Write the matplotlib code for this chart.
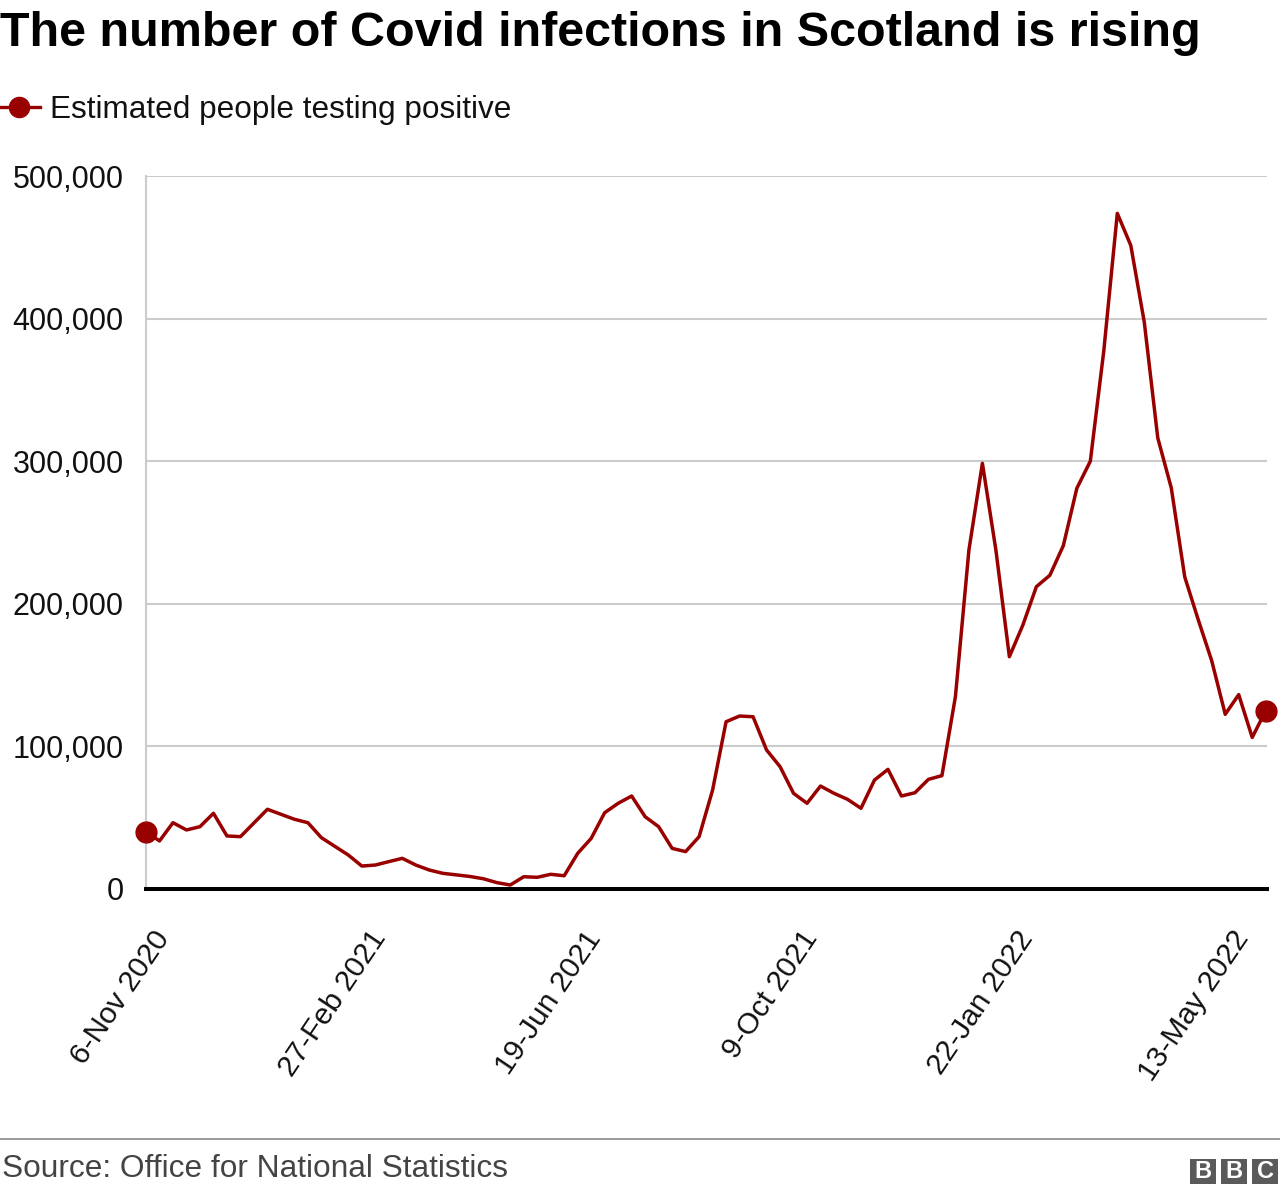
import matplotlib
matplotlib.use('Agg')
import matplotlib.pyplot as plt
from matplotlib import font_manager
from matplotlib.patches import Rectangle

# ---- data ----
values = [40200, 33700, 46500, 41400, 43700, 53100, 37200, 36700, 46300, 55900,
          52400, 48900, 46500, 36000, 29900, 23800, 16100, 16800, 19200, 21500,
          16800, 13300, 11000, 9900, 8800, 7200, 4500, 2800, 8600, 8200,
          10300, 9300, 25000, 35500, 53500, 60100, 65200, 50700, 43700, 28500,
          26200, 36700, 69400, 117300, 121300, 120800, 97500, 85800, 67100, 60100,
          72200, 67100, 62900, 56600, 76400, 83900, 65200, 67500, 76900, 79500,
          134900, 237700, 298500, 237700, 162900, 185100, 212000, 220000, 240800, 281000,
          300000, 377500, 473800, 451300, 397500, 316300, 281300, 218800, 188800, 160000,
          122500, 136300, 106300, 125000]
tick_idx = [0, 16, 32, 48, 64, 80]
tick_labels = ["6-Nov 2020", "27-Feb 2021", "19-Jun 2021", "9-Oct 2021",
               "22-Jan 2022", "13-May 2022"]
y_ticks = [0, 100000, 200000, 300000, 400000, 500000]
title = "The number of Covid infections in Scotland is rising"
legend_label = "Estimated people testing positive"
source = "Source: Office for National Statistics"

RED = '#990000'
W, H = 1280, 1194

def has_font(name):
    try:
        font_manager.findfont(font_manager.FontProperties(family=name), fallback_to_default=False)
        return True
    except Exception:
        return False

BASE = 'Liberation Sans'
TITLE_FONT = 'Liberation Sans Narrow' if has_font('Liberation Sans Narrow') else 'Liberation Sans'
plt.rcParams['font.family'] = [BASE, 'DejaVu Sans']

fig = plt.figure(figsize=(W / 100, H / 100), dpi=100)
fig.patch.set_facecolor('white')

def fy(py):
    return 1 - py / H

def fx(px):
    return px / W

renderer = fig.canvas.get_renderer()

def fit(t, target):
    bb = t.get_window_extent(renderer)
    t.set_fontsize(t.get_fontsize() * target / bb.width)

# ---- title ----
t = fig.text(fx(0), fy(46), title, fontsize=35, fontweight='bold', family=TITLE_FONT,
             ha='left', va='baseline', color='#000000')
fit(t, 1200)

# ---- legend ----
fig.add_artist(plt.Line2D([fx(0), fx(40)], [fy(107), fy(107)], color=RED, lw=2.4))
fig.add_artist(plt.Line2D([fx(19)], [fy(107)], marker='o', ms=14.5, color=RED, lw=0))
t = fig.text(fx(50), fy(118), legend_label, fontsize=22, ha='left', va='baseline', color='#111111')
fit(t, 458)

# ---- axes ----
ax = fig.add_axes([fx(146), fy(889), fx(1267 - 146), (889 - 176) / H])
x = list(range(len(values)))
ax.plot(x, values, color=RED, lw=2.5, clip_on=False, zorder=4)
ax.plot([x[0], x[-1]], [values[0], values[-1]], 'o', ms=15, color=RED, clip_on=False, zorder=5)
ax.set_xlim(0, (len(values) - 1) * (1267 - 146) / (1265.7 - 146))
ax.set_ylim(0, 500000)
ax.set_yticks(y_ticks)
ax.set_yticklabels([f"{v:,}" for v in y_ticks])
ax.grid(axis='y', color='#cccccc', lw=1.5)
ax.set_axisbelow(True)
for s in ['top', 'right', 'bottom']:
    ax.spines[s].set_visible(False)
ax.spines['left'].set_color('#cccccc')
ax.spines['left'].set_linewidth(1.5)
ax.axhline(0, color='#000000', lw=2.9, zorder=3, clip_on=False)
ax.tick_params(axis='y', length=0, pad=16, labelsize=22, labelcolor='#111111')
ax.set_xticks([])
for i, lab in zip(tick_idx, tick_labels):
    ax.annotate(lab, xy=(i, 0), xycoords='data', xytext=(13, -32), textcoords='offset points',
                rotation=56, rotation_mode='anchor', ha='right', va='center',
                fontsize=21.5, color='#111111', annotation_clip=False)

# ---- footer ----
fig.add_artist(plt.Line2D([0, 1], [fy(1139), fy(1139)], color='#888888', lw=1.2))
t = fig.text(fx(2), fy(1177), source, fontsize=20, ha='left', va='baseline', color='#444444')
fit(t, 505)

for bx, letter in zip([1190, 1221, 1252], "BBC"):
    fig.patches.append(Rectangle((fx(bx), fy(1184)), fx(26), 25 / H, transform=fig.transFigure,
                                 facecolor='#5a5a5a', edgecolor='none'))
    fig.text(fx(bx + 13), fy(1171.5), letter, fontsize=17, fontweight='bold', color='white',
             ha='center', va='center')

fig.savefig('out.png', dpi=100, facecolor='white')
